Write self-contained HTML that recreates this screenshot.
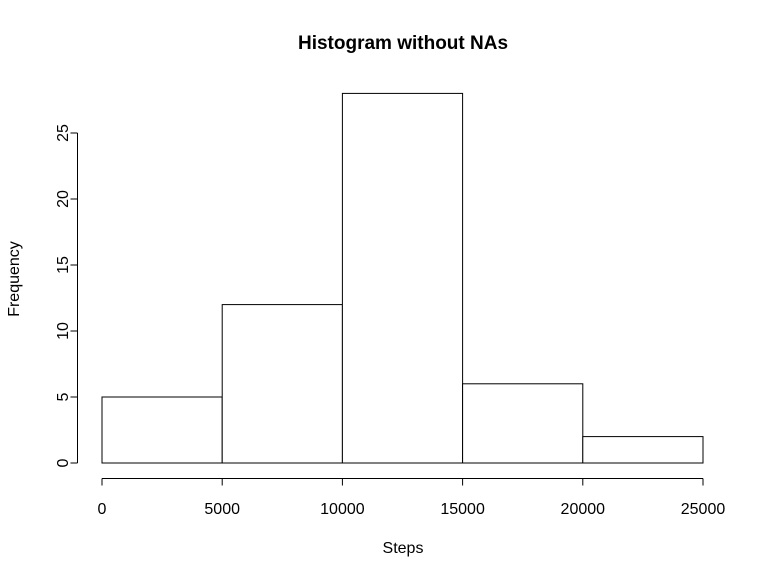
<!DOCTYPE html>
<html><head><meta charset="utf-8"><style>
html,body{margin:0;padding:0;background:#fff;}
svg{display:block;font-family:"Liberation Sans",Arial,sans-serif;}
</style></head><body>
<svg id="chart" width="768" height="576" viewBox="0 0 768 576" xmlns="http://www.w3.org/2000/svg">
<text x="403" y="49" text-anchor="middle" font-size="19" font-weight="bold">Histogram without NAs</text>
<text x="403" y="553" text-anchor="middle" font-size="16">Steps</text>
<text transform="translate(19,279) rotate(-90)" text-anchor="middle" font-size="16">Frequency</text>
<g id="bars"></g>
<g id="xaxis"></g>
<g id="yaxis"></g>
</svg>
<script>
const breaks = [0, 5000, 10000, 15000, 20000, 25000];
const counts = [5, 12, 28, 6, 2];
const xTicks = [0, 5000, 10000, 15000, 20000, 25000];
const yTicks = [0, 5, 10, 15, 20, 25];

const NS = "http://www.w3.org/2000/svg";
function xs(v){ return 102 + (v - 0) * (703 - 102) / 25000; }
function ys(v){ return 463 - v * (463 - 133) / 25; }
function mk(tag, attrs, parent){
  const e = document.createElementNS(NS, tag);
  for (const k in attrs) e.setAttribute(k, attrs[k]);
  parent.appendChild(e); return e;
}
const bars = document.getElementById('bars');
counts.forEach((c, i) => {
  const x0 = xs(breaks[i]), x1 = xs(breaks[i+1]);
  const r = mk('rect', {x: x0, y: ys(c), width: x1 - x0, height: ys(0) - ys(c), fill: '#fff', stroke: '#000', 'stroke-width': 1}, bars);
  
  
});
const xa = document.getElementById('xaxis');
mk('line', {x1: xs(xTicks[0]), x2: xs(xTicks[xTicks.length-1]), y1: 478.5, y2: 478.5, stroke: '#000'}, xa);
xTicks.forEach(t => {
  mk('line', {x1: xs(t), x2: xs(t), y1: 478.5, y2: 485.5, stroke: '#000'}, xa);
  const tx = mk('text', {x: xs(t), y: 514, 'text-anchor': 'middle', 'font-size': 16}, xa);
  tx.textContent = t;
  
  
});
const ya = document.getElementById('yaxis');
mk('line', {x1: 77.5, x2: 77.5, y1: ys(yTicks[0]), y2: ys(yTicks[yTicks.length-1]), stroke: '#000'}, ya);
yTicks.forEach(t => {
  mk('line', {x1: 70.5, x2: 77.5, y1: ys(t), y2: ys(t), stroke: '#000'}, ya);
  const tx = mk('text', {x: 0, y: 0, 'text-anchor': 'middle', 'font-size': 16, transform: 'translate(68,' + ys(t) + ') rotate(-90)'}, ya);
  tx.textContent = t;
  
  
});
</script>
</body></html>
